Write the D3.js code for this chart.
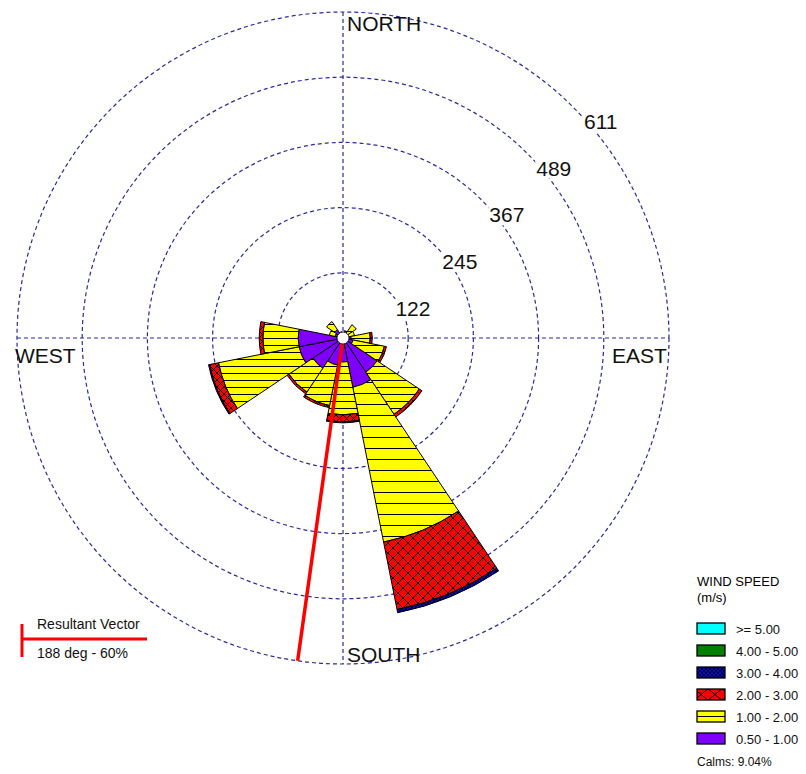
<!DOCTYPE html>
<html>
<head>
<meta charset="utf-8">
<script src="https://cdn.jsdelivr.net/npm/d3@7/dist/d3.min.js"></script>
<style>
  body { margin: 0; background: #fff; }
  svg { display: block; font-family: "Liberation Sans", Arial, sans-serif; }
</style>
</head>
<body>
<div id="chart"></div>
<script>
// sectors, clockwise from north
const directions = ["N", "NNE", "NE", "ENE", "E", "ESE", "SE", "SSE",
                    "S", "SSW", "SW", "WSW", "W", "WNW", "NW", "NNW"]

// counts per speed class, one value per direction
const speed_050_100 = [6, 6, 8, 8, 15, 19, 77, 94, 45, 52, 68, 84, 84, 15, 19, 6]
const speed_100_200 = [4, 8, 22, 14, 36, 60, 95, 296, 99, 77, 54, 154, 66, 11, 18, 6]
const speed_200_300 = [0, 0, 0, 0, 4, 4, 6, 129, 13, 4, 4, 17, 7, 0, 0, 0]
const speed_300_400 = [0, 0, 0, 0, 0, 0, 0, 6, 2, 0, 0, 2, 0, 0, 0, 0]
const speed_400_500 = [0, 0, 0, 0, 0, 0, 0, 0, 0, 0, 0, 0, 0, 0, 0, 0]
const speed_500_up  = [0, 0, 0, 0, 0, 0, 0, 0, 0, 0, 0, 0, 0, 0, 0, 0]

const class_labels = ["0.50 - 1.00", "1.00 - 2.00", "2.00 - 3.00", "3.00 - 4.00", "4.00 - 5.00", ">= 5.00"]
const class_keys = ["c050", "c100", "c200", "c300", "c400", "c500"]

const ring_values = [122.2, 244.4, 366.6, 488.8, 611]
const ring_labels = ["122", "245", "367", "489", "611"]
const cardinal_labels = ["NORTH", "EAST", "SOUTH", "WEST"]

const calms_text = "Calms: 9.04%"
const resultant_deg = 188
const resultant_pct = 60

const width = 806, height = 774
const cx = 343, cy = 338, R = 326
const grid_color = "#2a2a9c"

const table = directions.map((d, i) => ({
    dir: d,
    bearing: i * 360 / directions.length,
    c050: speed_050_100[i], c100: speed_100_200[i], c200: speed_200_300[i],
    c300: speed_300_400[i], c400: speed_400_500[i], c500: speed_500_up[i]
}))

const r = d3.scaleLinear().domain([0, ring_values[ring_values.length - 1]]).range([0, R])
const half = Math.PI / directions.length
const rad = (deg) => deg * Math.PI / 180

const svg = d3.select("#chart").append("svg")
    .attr("width", width).attr("height", height)

// patterns for the hatched speed classes
const defs = svg.append("defs")
function hatch(id, size) {
    const p = defs.append("pattern").attr("id", id).attr("patternUnits", "userSpaceOnUse")
        .attr("width", size).attr("height", size)
    p.append("rect").attr("width", size).attr("height", size).attr("fill", "#ffff00")
    p.append("line").attr("x1", 0).attr("x2", size).attr("y1", 0.5).attr("y2", 0.5)
        .attr("stroke", "#000").attr("stroke-width", 1)
}
function cross(id, w, h, x = 0, y = 0) {
    const p = defs.append("pattern").attr("id", id).attr("patternUnits", "userSpaceOnUse")
        .attr("width", w).attr("height", h).attr("x", x).attr("y", y)
    p.append("rect").attr("width", w).attr("height", h).attr("fill", "#ff0000")
    p.append("path").attr("d", `M-1,-1L${w + 1},${h + 1}M${w + 1},-1L-1,${h + 1}`)
        .attr("stroke", "#000").attr("stroke-width", 1).attr("fill", "none")
}
function dots(id) {
    const p = defs.append("pattern").attr("id", id).attr("patternUnits", "userSpaceOnUse")
        .attr("width", 4).attr("height", 4)
    p.append("rect").attr("width", 4).attr("height", 4).attr("fill", "#0000ff")
    p.append("rect").attr("width", 2).attr("height", 2).attr("fill", "#000")
    p.append("rect").attr("x", 2).attr("y", 2).attr("width", 2).attr("height", 2).attr("fill", "#000")
}
hatch("hatch-s", 7)
hatch("hatch-l", 11)
cross("cross-s", 7, 7)
cross("cross-l", 10, 10)
dots("dots")

function fill_for(key, big) {
    if (key === "c050") return "#8000ff"
    if (key === "c100") return big ? "url(#hatch-l)" : "url(#hatch-s)"
    if (key === "c200") return big ? "url(#cross-l)" : "url(#cross-s)"
    if (key === "c300") return "url(#dots)"
    if (key === "c400") return "#008000"
    return "#00ffff"
}

// grid
const grid = svg.append("g")
grid.selectAll("circle").data(ring_values).join("circle")
    .attr("cx", cx).attr("cy", cy).attr("r", d => r(d))
    .attr("fill", "none").attr("stroke", grid_color).attr("stroke-width", 1.2)
    .attr("stroke-dasharray", "4,3")
grid.append("line").attr("x1", cx).attr("x2", cx).attr("y1", cy - R).attr("y2", cy + R)
    .attr("stroke", grid_color).attr("stroke-width", 1.2).attr("stroke-dasharray", "4,3")
grid.append("line").attr("x1", cx - R).attr("x2", cx + R).attr("y1", cy).attr("y2", cy)
    .attr("stroke", grid_color).attr("stroke-width", 1.2).attr("stroke-dasharray", "4,3")

// cardinal labels
const card_pos = [
    { x: cx + 4, y: cy - R + 19 },
    { x: cx + 269, y: cy + 25 },
    { x: cx + 4, y: cy + R - 2 },
    { x: 15, y: cy + 25 }
]
svg.append("g").selectAll("text").data(cardinal_labels).join("text")
    .attr("x", (d, i) => card_pos[i].x).attr("y", (d, i) => card_pos[i].y)
    .attr("font-size", 21).attr("fill", "#111")
    .text(d => d)

// petals
const series = d3.stack().keys(class_keys)(table)
const arc = d3.arc()
    .innerRadius(d => r(d[0]))
    .outerRadius(d => r(d[1]))
    .startAngle(d => rad(d.data.bearing) - half)
    .endAngle(d => rad(d.data.bearing) + half)

const petals = svg.append("g").attr("transform", `translate(${cx},${cy})`)
series.forEach(s => {
    petals.append("g").selectAll("path")
        .data(s.filter(d => d[1] - d[0] > 0))
        .join("path")
        .attr("d", arc)
        .attr("fill", d => fill_for(s.key, r(d.data.c050 + d.data.c100 + d.data.c200) > 200))
        .attr("stroke", "#000").attr("stroke-width", 1)
})

// resultant vector
const res_len = R
petals.append("line")
    .attr("x1", 0).attr("y1", 0)
    .attr("x2", res_len * Math.sin(rad(resultant_deg)))
    .attr("y2", -res_len * Math.cos(rad(resultant_deg)))
    .attr("stroke", "#ff0000").attr("stroke-width", 3.5)

petals.append("circle").attr("r", 6).attr("fill", "#fff").attr("stroke", "#000").attr("stroke-width", 0.8)

// ring labels with white background
const rl = svg.append("g")
ring_values.forEach((v, i) => {
    const g = rl.append("g")
    const t = g.append("text")
        .attr("x", cx + r(v) * 0.72 + 23)
        .attr("y", cy - r(v) * 0.717 + 17)
        .attr("dy", "0.36em")
        .attr("text-anchor", "middle")
        .attr("font-size", 21).attr("fill", "#111")
        .text(ring_labels[i])
    const bb = t.node().getBBox()
    g.insert("rect", "text").attr("x", bb.x - 1).attr("y", bb.y + 2)
        .attr("width", bb.width + 2).attr("height", bb.height - 3).attr("fill", "#fff")
})

// speed legend
const leg = svg.append("g").attr("transform", "translate(697,0)")
leg.append("text").attr("x", 0).attr("y", 586).attr("font-size", 13).text("WIND SPEED")
leg.append("text").attr("x", 0).attr("y", 602).attr("font-size", 13).text("(m/s)")
cross("cross-leg", 14, 11, 697, 0)
const leg_rows = class_keys.slice().reverse()
const leg_labels = class_labels.slice().reverse()
leg_rows.forEach((k, i) => {
    const y = 623 + i * 22
    let f = fill_for(k, false)
    if (k === "c100") f = "#ffff00"
    if (k === "c200") {
        defs.select("#cross-leg").attr("y", y)
        f = "url(#cross-leg)"
    }
    leg.append("rect").attr("x", 0).attr("y", y).attr("width", 28).attr("height", 11)
        .attr("fill", f).attr("stroke", "#000").attr("stroke-width", 1.3)
    if (k === "c100") {
        leg.append("line").attr("x1", 0).attr("x2", 28).attr("y1", y + 5.5).attr("y2", y + 5.5)
            .attr("stroke", "#000").attr("stroke-width", 1)
    }
    leg.append("text").attr("x", 39).attr("y", y + 10.5).attr("font-size", 13).attr("fill", "#111")
        .text(leg_labels[i])
})
leg.append("text").attr("x", 0).attr("y", 766).attr("font-size", 12).attr("fill", "#111").text(calms_text)

// resultant vector legend
const rv = svg.append("g")
rv.append("line").attr("x1", 22).attr("x2", 22).attr("y1", 624).attr("y2", 657)
    .attr("stroke", "#ff0000").attr("stroke-width", 3)
rv.append("line").attr("x1", 22).attr("x2", 147).attr("y1", 639).attr("y2", 639)
    .attr("stroke", "#ff0000").attr("stroke-width", 3)
rv.append("text").attr("x", 37).attr("y", 629).attr("font-size", 14).attr("fill", "#111")
    .text("Resultant Vector")
rv.append("text").attr("x", 37).attr("y", 658).attr("font-size", 14).attr("fill", "#111")
    .text(`${resultant_deg} deg - ${resultant_pct}%`)
</script>
</body>
</html>
